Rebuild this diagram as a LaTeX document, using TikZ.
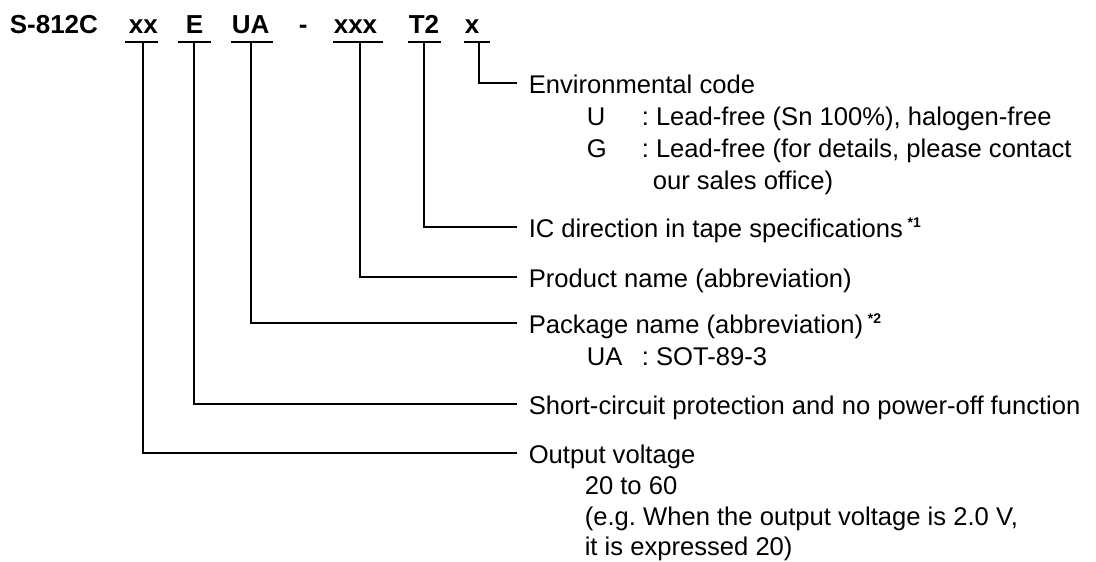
\documentclass[tikz,border=0pt]{standalone}
\usepackage{fontspec}
\setmainfont{Liberation Sans}
\usetikzlibrary{calc}
\frenchspacing

\begin{document}
\begin{tikzpicture}[x=1pt, y=-1pt, line width=1.6pt,
  every node/.style={inner sep=0pt, anchor=base west, font=\fontsize{25.6}{32}\selectfont},
  code/.style={font=\fontsize{26}{32}\selectfont\bfseries},
  note/.style={font=\fontsize{14}{16}\selectfont\bfseries}]
  \useasboundingbox (0,0) rectangle (1096,562);
  % product code
  \node [code] (name) at (9,33) {S-812C};
  \node [code] (xx) at (128,33) {xx};
  \node [code] (e) at (185,33) {E};
  \node [code] (ua) at (231,33) {UA};
  \node [code] (dash) at (298,33) {-};
  \node [code] (xxx) at (333,33) {xxx};
  \node [code] (t2) at (408,33) {T2};
  \node [code] (x) at (464,33) {x};
  \draw (125,42) -- (158,42) (178,42) -- (211,42) (231,42) -- (273,42)
        (333,42) -- (383,42) (408,42) -- (441,42) (464,42) -- (490,42);
  \coordinate (xx-u) at (143,42);
  \coordinate (e-u) at (194,42);
  \coordinate (ua-u) at (251,42);
  \coordinate (xxx-u) at (360,42);
  \coordinate (t2-u) at (424,42);
  \coordinate (x-u) at (479,42);
  % descriptions
  \node (env) at (528,93) {Environmental code};
  \node (envU) at (586,125) {U};
  \node at (641,125) {: Lead-free (Sn 100\%), halogen-free};
  \node (envG) at (586,157) {G};
  \node at (641,157) {: Lead-free (for details, please contact};
  \node at (652,189) {our sales office)};
  \node (ic) at (528,237) {IC direction in tape specifications};
  \node [note] at ($(ic.base east)+(3,-10)$) {*1};
  \node (prod) at (528,287) {Product name (abbreviation)};
  \node (pkg) at (528,333) {Package name (abbreviation)};
  \node [note] at ($(pkg.base east)+(3,-10)$) {*2};
  \node (pkgUA) at (586,365) {UA};
  \node at (641,365) {: SOT-89-3};
  \node (short) at (528,414) {Short-circuit protection and no power-off function};
  \node (out) at (528,463) {Output voltage};
  \node at (584,494) {20 to 60};
  \node at (584,525) {(e.g. When the output voltage is 2.0 V,};
  \node at (584,555) {it is expressed 20)};
  % leaders
  \draw (x-u) |- ($(env.base west)+(-11,-10)$);
  \draw (t2-u) |- ($(ic.base west)+(-11,-10)$);
  \draw (xxx-u) |- ($(prod.base west)+(-11,-10)$);
  \draw (ua-u) |- ($(pkg.base west)+(-11,-10)$);
  \draw (e-u) |- ($(short.base west)+(-11,-10)$);
  \draw (xx-u) |- ($(out.base west)+(-11,-10)$);
\end{tikzpicture}
\end{document}
